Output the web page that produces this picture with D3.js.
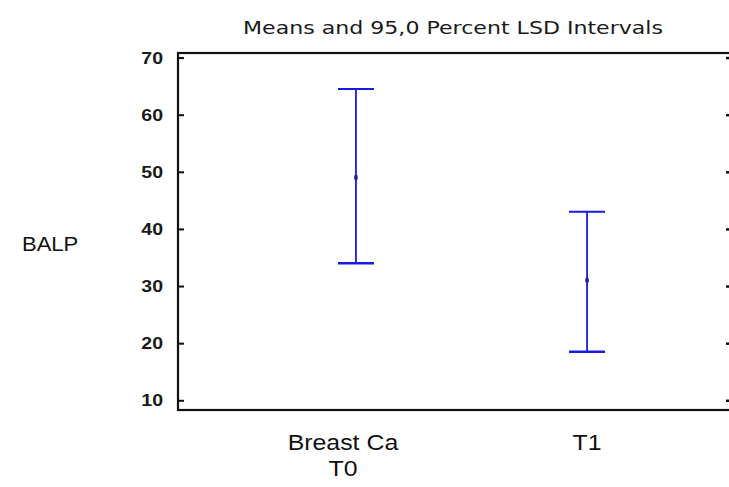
<!DOCTYPE html>
<html>
<head>
<meta charset="utf-8">
<script src="https://cdn.jsdelivr.net/npm/d3@7"></script>
<style>
  body { margin: 0; background: #fff; }
  svg { display: block; }
</style>
</head>
<body>
<svg width="729" height="487"></svg>
<script>
// data
const categories = ["Breast Ca T0", "T1"];
const catLabels = [["Breast Ca", "T0"], ["T1"]];
const means = [49, 31];
const lower = [34, 18.5];
const upper = [64.5, 43];
const yTicks = [10, 20, 30, 40, 50, 60, 70];

const svg = d3.select("svg");
const margin = {top: 53, left: 178, bottom: 410, right: 765};
const labelFont = "Liberation Sans, Arial, sans-serif";

let x = d3.scalePoint().domain(categories).range([margin.left, margin.right]).padding(0.77);
let y = d3.scaleLinear().domain([8.3, 70.8]).range([margin.bottom, margin.top]);

// frame
svg.append("rect")
    .attr("x", margin.left)
    .attr("y", margin.top)
    .attr("width", margin.right - margin.left)
    .attr("height", margin.bottom - margin.top)
    .attr("fill", "none")
    .attr("stroke", "#111")
    .attr("stroke-width", 2.2);

// left axis, ticks point inward
let yAxis = svg.append("g")
    .attr("transform", "translate(" + margin.left + ",0)")
    .call(d3.axisLeft(y).tickValues(yTicks).tickSize(-6).tickPadding(15));
yAxis.select(".domain").remove();
yAxis.selectAll("line").attr("stroke", "#111").attr("stroke-width", 2);
// labels are a bit wider than the font, stretch them around their right edge
yAxis.selectAll("text")
    .attr("font-family", labelFont)
    .attr("font-size", 17)
    .attr("font-weight", "bold")
    .attr("fill", "#1a1a1a")
    .attr("transform", "translate(-15,0) scale(1.15,1) translate(15,0)");

// right side stubs
let yRight = svg.append("g")
    .attr("transform", "translate(729,0)")
    .call(d3.axisLeft(y).tickValues(yTicks).tickSize(3).tickFormat(""));
yRight.select(".domain").remove();
yRight.selectAll("line").attr("stroke", "#111").attr("stroke-width", 2.5);

// intervals
const blue = "#1a1ae6";
const capW = 18;
const groups = svg.selectAll(".interval")
    .data(categories)
    .enter().append("g")
    .attr("class", "interval");

groups.append("line")
    .attr("x1", d => x(d)).attr("x2", d => x(d))
    .attr("y1", (d, i) => y(upper[i]))
    .attr("y2", (d, i) => y(lower[i]))
    .attr("stroke", blue).attr("stroke-width", 1.8);
groups.append("line")
    .attr("x1", d => x(d) - capW).attr("x2", d => x(d) + capW)
    .attr("y1", (d, i) => y(upper[i])).attr("y2", (d, i) => y(upper[i]))
    .attr("stroke", blue).attr("stroke-width", 2);
groups.append("line")
    .attr("x1", d => x(d) - capW).attr("x2", d => x(d) + capW)
    .attr("y1", (d, i) => y(lower[i])).attr("y2", (d, i) => y(lower[i]))
    .attr("stroke", blue).attr("stroke-width", 2.5);
groups.append("ellipse")
    .attr("cx", d => x(d))
    .attr("cy", (d, i) => y(means[i]))
    .attr("rx", 1.8).attr("ry", 3)
    .attr("fill", "#22228a");

// stretched text helper
function stretchText(px, py, sx, anchor) {
    return svg.append("text")
        .attr("transform", "translate(" + px + "," + py + ") scale(" + sx + ",1)")
        .attr("text-anchor", anchor);
}

// category labels
catLabels.forEach((lines, i) => {
    let shift = lines.length > 1 ? -13 : 0;
    let t = stretchText(x(categories[i]) + shift, 450, 1.13, "middle")
        .attr("font-family", labelFont)
        .attr("font-size", 22)
        .attr("fill", "#111");
    lines.forEach((s, j) => {
        t.append("tspan").attr("x", 0).attr("dy", j ? 26 : 0).text(s);
    });
});

// y label
stretchText(22, 251, 1.1, "start")
    .attr("font-family", labelFont)
    .attr("font-size", 20)
    .attr("fill", "#111")
    .text("BALP");

// title
stretchText(453, 34, 1.3, "middle")
    .attr("font-family", "DejaVu Sans, sans-serif")
    .attr("font-size", 17)
    .attr("fill", "#1a1a1a")
    .text("Means and 95,0 Percent LSD Intervals");
</script>
</body>
</html>
